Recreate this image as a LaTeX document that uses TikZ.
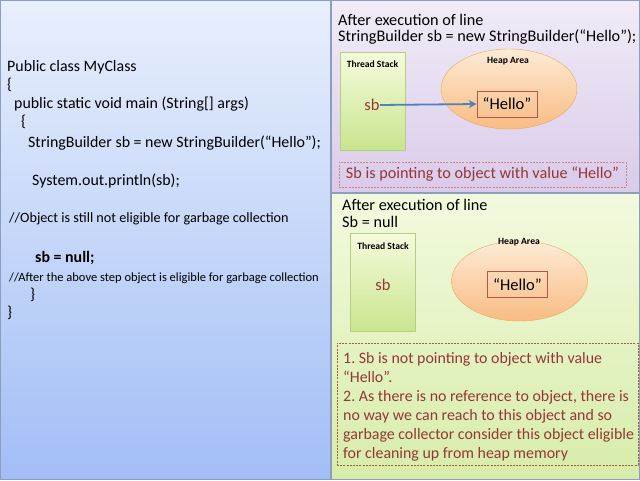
\documentclass[tikz,border=0pt]{standalone}
\usepackage{fontspec}
\setmainfont{Carlito}
\frenchspacing
\usetikzlibrary{positioning,shapes.geometric,arrows.meta}
\definecolor{panelline}{HTML}{8C9DBE}
\definecolor{codetop}{HTML}{E8EFFC}
\definecolor{codebot}{HTML}{A2BEF6}
\definecolor{purtop}{HTML}{F1ECF7}
\definecolor{purbot}{HTML}{D9CBEA}
\definecolor{grntop}{HTML}{F2FADE}
\definecolor{grnbot}{HTML}{D7ECAA}
\definecolor{stacktop}{HTML}{F4FBDC}
\definecolor{stackbot}{HTML}{C9E58E}
\definecolor{stackline}{HTML}{B5CF80}
\definecolor{heaptop}{HTML}{FDEBD5}
\definecolor{heapbot}{HTML}{F8BC82}
\definecolor{heapline}{HTML}{EDA65E}
\definecolor{notered}{HTML}{953735}
\definecolor{helloline}{HTML}{C0504D}
\definecolor{ptrblue}{HTML}{4F81BD}
\definecolor{dashpink}{HTML}{D88080}
\definecolor{dashbrown}{HTML}{A0603A}

\begin{document}
\begin{tikzpicture}[x=1pt, y=-1pt,
      panel/.style={draw=panelline, line width=0.8pt},
      code/.style={anchor=base west, inner sep=0pt, font=\fontsize{15.9}{18}\selectfont},
      remark/.style={anchor=base west, inner sep=0pt, font=\fontsize{14.2}{16}\selectfont},
      heading/.style={anchor=base west, inner sep=0pt, font=\fontsize{16.2}{19}\selectfont},
      stack/.style={rectangle, draw=stackline, top color=stacktop, bottom color=stackbot, minimum width=65pt, minimum height=98pt},
      heap/.style={ellipse, draw=heapline, top color=heaptop, bottom color=heapbot, minimum width=136pt, minimum height=80pt},
      tag/.style={inner sep=0pt, font=\bfseries\fontsize{9.6}{11}\selectfont},
      ref/.style={inner sep=0pt, text=notered, font=\fontsize{16.5}{19}\selectfont},
      object/.style={rectangle, draw=helloline, line width=0.7pt, minimum width=60pt, minimum height=26pt, font=\fontsize{16.5}{19}\selectfont},
      note/.style={rectangle, draw, dash pattern=on 2pt off 1.2pt, text=notered, inner sep=0pt},
      ptr/.style={-{Stealth[length=8pt, width=8pt]}, draw=ptrblue, line width=1.8pt}
    ]
    \useasboundingbox (0,0) rectangle (640,480);
    \shade[panel, top color=codetop, bottom color=codebot] (0.5,0.5) rectangle (330,479.5);
    \shade[panel, top color=purtop, bottom color=purbot] (331,0.5) rectangle (639.5,192);
    \shade[panel, top color=grntop, bottom color=grnbot] (331,193) rectangle (639.5,479.5);

    \node[code] (cls) at (7,71) {Public class MyClass};
    \node[code] (clsopen) at (7,89) {\{};
    \node[code] (mainsig) at (14,108) {public static void main (String[] args)};
    \node[code] (mainopen) at (21,126) {\{};
    \node[code] (create) at (28,147) {StringBuilder sb = new StringBuilder(“Hello”);};
    \node[code] (print) at (32,185) {System.out.println(sb);};
    \node[remark] (still) at (9,222) {//Object is still not eligible for garbage collection};
    \node[code, font=\bfseries\fontsize{15.9}{18}\selectfont] (nullify) at (35,262) {sb = null;};
    \node[remark, font=\fontsize{12.5}{14}\selectfont] (after) at (9,281) {//After the above step object is eligible for garbage collection};
    \node[code] (mainclose) at (30,299) {\}};
    \node[code] (clsclose) at (7,317) {\}};

    \node[heading] (headA) at (338,25) {After execution of line};
    \node[heading] (lineA) at (338,41) {StringBuilder sb = new StringBuilder(“Hello”);};
    \node[stack] (stackA) at (372.5,101) {};
    \node[tag] (stacktagA) at (372.5,64) {Thread Stack};
    \node[ref] (sbA) at (372,105) {sb};
    \node[heap] (heapA) at (509,89) {};
    \node[tag] (heaptagA) at (508,61) {Heap Area};
    \node[object] (helloA) at (507,104) {“Hello”};
    \node[note, draw=dashpink, minimum width=287pt, minimum height=25pt, font=\fontsize{16.2}{19}\selectfont] (noteA) at (482.5,174.5) {Sb is pointing to object with value “Hello”};
    \draw[ptr] (sbA.east) -- (helloA.west);

    \node[heading] (headB) at (342,210) {After execution of line};
    \node[heading] (lineB) at (342,227) {Sb = null};
    \node[stack] (stackB) at (383,282.5) {};
    \node[tag] (stacktagB) at (383,246) {Thread Stack};
    \node[ref] (sbB) at (383,285) {sb};
    \node[heap] (heapB) at (519.5,281) {};
    \node[tag] (heaptagB) at (519,242) {Heap Area};
    \node[object] (helloB) at (517.5,284.5) {“Hello”};
    \node[note, draw=dashbrown, minimum width=301pt, minimum height=122pt] (noteB) at (487.5,404) {};
    \node[inner sep=0pt, anchor=north west, align=left, text=notered, font=\fontsize{15.9}{19.1}\selectfont] (textB) at (343,352) {1. Sb is not pointing to object with value\\“Hello”.\\2. As there is no reference to object, there is\\no way we can reach to this object and so\\garbage collector consider this object eligible\\for cleaning up from heap memory};
  \end{tikzpicture}
\end{document}
